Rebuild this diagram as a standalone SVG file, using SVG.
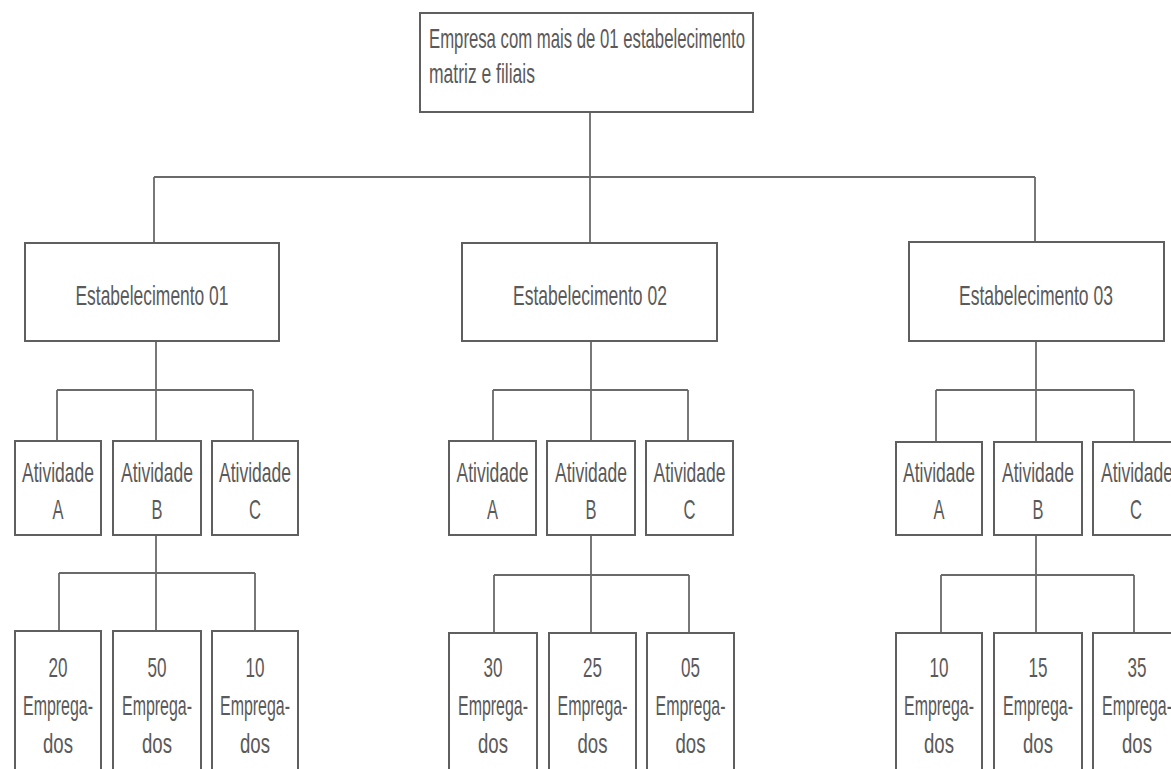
<svg xmlns="http://www.w3.org/2000/svg" width="1171" height="769" viewBox="0 0 1171 769">
<style>
.box{fill:#fff;stroke:#5f5f5f;stroke-width:2}
.ln{fill:none;stroke:#6a6a6a;stroke-width:1.8}
text{font-family:"Liberation Sans",Arial,sans-serif;font-size:28px;fill:#5a5a5a;text-anchor:middle}
.l{text-anchor:start}
.emp{font-size:27px}
</style>
<rect width="1171" height="769" fill="#fff"/>
<g id="connectors" class="ln">
<path d="M590 112V177M154 177H1035M154 177V243M590 177V243M1035 177V242"/>
<path d="M156 341V390M57 390H253M57 390V441M156 390V441M253 390V441"/>
<path d="M591 341V390M493 390H688M493 390V441M591 390V441M688 390V441"/>
<path d="M1036 341V390M936 390H1134M936 390V441M1036 390V441M1134 390V441"/>
<path d="M156 535V573M59 573H255M59 573V631M156 573V631M255 573V631"/>
<path d="M591 535V575M494 575H689M494 575V633M591 575V633M689 575V633"/>
<path d="M1036 535V575M941 575H1134M941 575V633M1036 575V633M1134 575V633"/>
</g>
<g id="empresa"><rect class="box" x="420" y="13" width="333" height="99"/>
<text class="l" x="429" y="48" textLength="316" lengthAdjust="spacingAndGlyphs">Empresa com mais de 01 estabelecimento</text>
<text class="l" x="429" y="83" textLength="106" lengthAdjust="spacingAndGlyphs">matriz e filiais</text></g>
<g id="est01"><rect class="box" x="25" y="243" width="254" height="98"/><text x="152" y="305" textLength="153" lengthAdjust="spacingAndGlyphs">Estabelecimento 01</text></g>
<g id="est02"><rect class="box" x="462" y="243" width="255" height="98"/><text x="590" y="305" textLength="154" lengthAdjust="spacingAndGlyphs">Estabelecimento 02</text></g>
<g id="est03"><rect class="box" x="909" y="242" width="255" height="99"/><text x="1036" y="305" textLength="154" lengthAdjust="spacingAndGlyphs">Estabelecimento 03</text></g>

<g id="e1a"><rect class="box" x="15" y="441" width="86" height="94"/><text x="58" y="482" textLength="72" lengthAdjust="spacingAndGlyphs">Atividade</text><text x="58" y="519" textLength="11" lengthAdjust="spacingAndGlyphs">A</text></g>
<g id="e1b"><rect class="box" x="113" y="441" width="88" height="94"/><text x="157" y="482" textLength="72" lengthAdjust="spacingAndGlyphs">Atividade</text><text x="157" y="519" textLength="11" lengthAdjust="spacingAndGlyphs">B</text></g>
<g id="e1c"><rect class="box" x="212" y="441" width="86" height="94"/><text x="255" y="482" textLength="72" lengthAdjust="spacingAndGlyphs">Atividade</text><text x="255" y="519" textLength="12" lengthAdjust="spacingAndGlyphs">C</text></g>

<g id="e2a"><rect class="box" x="449" y="441" width="87" height="94"/><text x="492.5" y="482" textLength="72" lengthAdjust="spacingAndGlyphs">Atividade</text><text x="492.5" y="519" textLength="11" lengthAdjust="spacingAndGlyphs">A</text></g>
<g id="e2b"><rect class="box" x="547" y="441" width="88" height="94"/><text x="591" y="482" textLength="72" lengthAdjust="spacingAndGlyphs">Atividade</text><text x="591" y="519" textLength="11" lengthAdjust="spacingAndGlyphs">B</text></g>
<g id="e2c"><rect class="box" x="646" y="441" width="87" height="94"/><text x="689.5" y="482" textLength="72" lengthAdjust="spacingAndGlyphs">Atividade</text><text x="689.5" y="519" textLength="12" lengthAdjust="spacingAndGlyphs">C</text></g>

<g id="e3a"><rect class="box" x="896" y="442" width="86" height="93"/><text x="939" y="482" textLength="72" lengthAdjust="spacingAndGlyphs">Atividade</text><text x="939" y="519" textLength="11" lengthAdjust="spacingAndGlyphs">A</text></g>
<g id="e3b"><rect class="box" x="994" y="442" width="88" height="93"/><text x="1038" y="482" textLength="72" lengthAdjust="spacingAndGlyphs">Atividade</text><text x="1038" y="519" textLength="11" lengthAdjust="spacingAndGlyphs">B</text></g>
<g id="e3c"><rect class="box" x="1093" y="442" width="90" height="93"/><text x="1137" y="482" textLength="72" lengthAdjust="spacingAndGlyphs">Atividade</text><text x="1136" y="519" textLength="12" lengthAdjust="spacingAndGlyphs">C</text></g>

<g id="emp1a" class="emp"><rect class="box" x="15" y="631" width="86" height="150"/><text x="58" y="677" textLength="19" lengthAdjust="spacingAndGlyphs">20</text><text x="58" y="715" textLength="70" lengthAdjust="spacingAndGlyphs">Emprega-</text><text x="58" y="753" textLength="30" lengthAdjust="spacingAndGlyphs">dos</text></g>
<g id="emp1b" class="emp"><rect class="box" x="113" y="631" width="88" height="150"/><text x="157" y="677" textLength="19" lengthAdjust="spacingAndGlyphs">50</text><text x="157" y="715" textLength="70" lengthAdjust="spacingAndGlyphs">Emprega-</text><text x="157" y="753" textLength="30" lengthAdjust="spacingAndGlyphs">dos</text></g>
<g id="emp1c" class="emp"><rect class="box" x="212" y="631" width="86" height="150"/><text x="255" y="677" textLength="19" lengthAdjust="spacingAndGlyphs">10</text><text x="255" y="715" textLength="70" lengthAdjust="spacingAndGlyphs">Emprega-</text><text x="255" y="753" textLength="30" lengthAdjust="spacingAndGlyphs">dos</text></g>

<g id="emp2a" class="emp"><rect class="box" x="449" y="633" width="88" height="150"/><text x="493" y="677" textLength="19" lengthAdjust="spacingAndGlyphs">30</text><text x="493" y="715" textLength="70" lengthAdjust="spacingAndGlyphs">Emprega-</text><text x="493" y="753" textLength="30" lengthAdjust="spacingAndGlyphs">dos</text></g>
<g id="emp2b" class="emp"><rect class="box" x="549" y="633" width="87" height="150"/><text x="592.5" y="677" textLength="19" lengthAdjust="spacingAndGlyphs">25</text><text x="592.5" y="715" textLength="70" lengthAdjust="spacingAndGlyphs">Emprega-</text><text x="592.5" y="753" textLength="30" lengthAdjust="spacingAndGlyphs">dos</text></g>
<g id="emp2c" class="emp"><rect class="box" x="647" y="633" width="87" height="150"/><text x="690.5" y="677" textLength="19" lengthAdjust="spacingAndGlyphs">05</text><text x="690.5" y="715" textLength="70" lengthAdjust="spacingAndGlyphs">Emprega-</text><text x="690.5" y="753" textLength="30" lengthAdjust="spacingAndGlyphs">dos</text></g>

<g id="emp3a" class="emp"><rect class="box" x="896" y="633" width="86" height="150"/><text x="939" y="677" textLength="19" lengthAdjust="spacingAndGlyphs">10</text><text x="939" y="715" textLength="70" lengthAdjust="spacingAndGlyphs">Emprega-</text><text x="939" y="753" textLength="30" lengthAdjust="spacingAndGlyphs">dos</text></g>
<g id="emp3b" class="emp"><rect class="box" x="994" y="633" width="88" height="150"/><text x="1038" y="677" textLength="19" lengthAdjust="spacingAndGlyphs">15</text><text x="1038" y="715" textLength="70" lengthAdjust="spacingAndGlyphs">Emprega-</text><text x="1038" y="753" textLength="30" lengthAdjust="spacingAndGlyphs">dos</text></g>
<g id="emp3c" class="emp"><rect class="box" x="1093" y="633" width="90" height="150"/><text x="1137" y="677" textLength="19" lengthAdjust="spacingAndGlyphs">35</text><text x="1137" y="715" textLength="70" lengthAdjust="spacingAndGlyphs">Emprega-</text><text x="1137" y="753" textLength="30" lengthAdjust="spacingAndGlyphs">dos</text></g>
</svg>
